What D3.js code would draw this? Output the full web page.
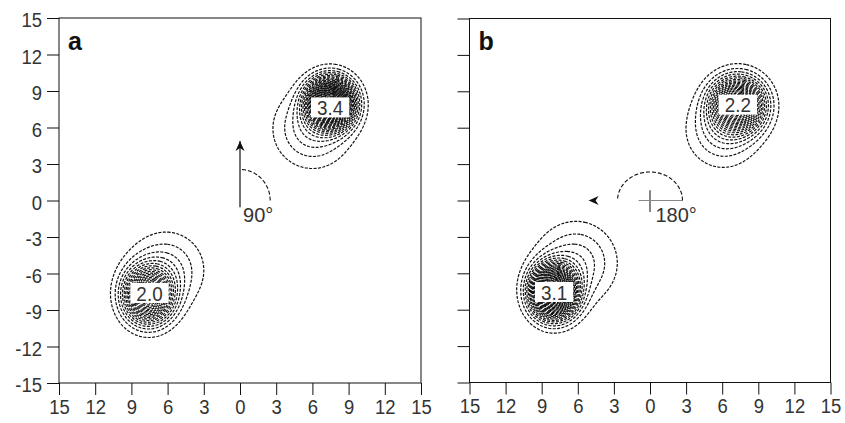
<!DOCTYPE html>
<html><head><meta charset="utf-8">
<script src="https://cdn.jsdelivr.net/npm/d3@7"></script>
<style>body{margin:0;background:#fff} svg{display:block}</style>
</head><body>
<svg id="chart" width="845" height="423"></svg>
<script>
// ---------- data ----------
const axisTicks = [-15, -12, -9, -6, -3, 0, 3, 6, 9, 12, 15];
const yTickLabels = ["-15", "-12", "-9", "-6", "-3", "0", "3", "6", "9", "12", "15"];
const xTickLabels = ["15", "12", "9", "6", "3", "0", "3", "6", "9", "12", "15"];
const panelNames = ["a", "b"];
// contour peaks: [x, y, peak, spread x, spread y]
const peaksA = [[7.5, 8.0, 3.4, 1.15, 1.2], [-7.6, -7.8, 2.0, 1.25, 1.4]];
const peaksB = [[7.3, 7.9, 2.2, 1.35, 1.35], [-8.0, -7.5, 3.1, 1.15, 1.3]];
// weak shoulders that stretch the outer contours toward the centre: [x, y, height, spread]
const shouldersA = [[6.0, 5.9, 0.38, 2.0], [-6.1, -5.7, 0.33, 2.0]];
const shouldersB = [[6.05, 5.75, 0.35, 1.9], [-6.15, -5.15, 0.38, 2.1]];
const peakLabelsA = [[7.47, 7.65, "3.4"], [-7.5, -7.6, "2.0"]];
const peakLabelsB = [[7.3, 7.9, "2.2"], [-7.97, -7.54, "3.1"]];
const contourStep = 0.1;
const arrowDirections = [90, 180];        // degrees
const arrowLengths = [4.9, 5.1];
const arcRadii = [[2.5, 2.55], [2.7, 2.35]];
const angleLabels = ["90°", "180°"];

// ---------- layout ----------
const svg = d3.select("#chart");
const panels = [
  {x0: 59, x1: 421, y0: 18, y1: 383, peaks: peaksA, shoulders: shouldersA, labels: peakLabelsA, showY: true},
  {x0: 469.5, x1: 830.5, y0: 18.5, y1: 382.5, peaks: peaksB, shoulders: shouldersB, labels: peakLabelsB, showY: false}
];
const numFont = "'Liberation Sans', Arial, sans-serif";
const sx = 0.88; // horizontal squeeze of tick numbers

panels.forEach((p, pi) => {
  const x = d3.scaleLinear().domain([-15, 15]).range([p.x0, p.x1]);
  const y = d3.scaleLinear().domain([-15, 15]).range([p.y1, p.y0]);
  const g = svg.append("g");
  const clipId = "clip" + pi;
  svg.append("clipPath").attr("id", clipId).append("rect")
    .attr("x", p.x0).attr("y", p.y0).attr("width", p.x1 - p.x0).attr("height", p.y1 - p.y0);

  // field grid
  const n = 301, step = 0.1;
  const values = new Float64Array(n * n);
  for (let j = 0; j < n; j++) {
    const yy = -15 + j * step;
    for (let i = 0; i < n; i++) {
      const xx = -15 + i * step;
      let v = 0;
      p.peaks.forEach(c => {
        const dx = (xx - c[0]) / c[3], dy = (yy - c[1]) / c[4];
        v += c[2] * Math.exp(-0.5 * (dx * dx + dy * dy));
      });
      p.shoulders.forEach(c => {
        const dx = (xx - c[0]) / c[3], dy = (yy - c[1]) / c[3];
        v += c[2] * Math.exp(-0.5 * (dx * dx + dy * dy));
      });
      values[j * n + i] = v;
    }
  }
  const maxPeak = d3.max(p.peaks, c => c[2]);
  const thresholds = d3.range(1, Math.round(maxPeak / contourStep)).map(k => k * contourStep);
  const contours = d3.contours().size([n, n]).thresholds(thresholds)(values);
  const proj = d3.geoTransform({
    point: function(gx, gy) {
      this.stream.point(x(-15 + (gx - 0.5) * step), y(-15 + (gy - 0.5) * step));
    }
  });
  const path = d3.geoPath(proj);
  g.append("g").attr("clip-path", `url(#${clipId})`)
    .selectAll("path").data(contours).join("path")
    .attr("d", path)
    .attr("fill", "none")
    .attr("stroke", "#111")
    .attr("stroke-width", 1.2)
    .attr("stroke-dasharray", "3,1.4");

  // peak labels
  p.labels.forEach(l => {
    const t = g.append("text")
      .attr("transform", `translate(${x(l[0])},${y(l[1])}) scale(0.9,1)`)
      .attr("text-anchor", "middle").attr("dy", "0.36em")
      .attr("font-family", numFont).attr("font-size", 21)
      .attr("fill", "#333").text(l[2]);
    const w = t.node().getBBox().width * 0.9;
    g.insert("rect", () => t.node())
      .attr("x", x(l[0]) - w / 2 - 6).attr("y", y(l[1]) - 10)
      .attr("width", w + 12).attr("height", 20)
      .attr("fill", "#fff");
  });

  // arrow, arc, angle label
  const dir = arrowDirections[pi], len = arrowLengths[pi];
  const rad = dir * Math.PI / 180;
  const tip = [len * Math.cos(rad), len * Math.sin(rad)];
  const ux = Math.cos(rad), uy = Math.sin(rad);
  if (pi === 0) {
    g.append("line")
      .attr("x1", x(0)).attr("y1", y(-0.55))
      .attr("x2", x(tip[0])).attr("y2", y(tip[1]))
      .attr("stroke", "#111").attr("stroke-width", 1.2);
  } else {
    g.append("line").attr("x1", x(0)).attr("x2", x(0)).attr("y1", y(0.85)).attr("y2", y(-0.95))
      .attr("stroke", "#333").attr("stroke-width", 1.2);
    g.append("line").attr("x1", x(-0.95)).attr("x2", x(arcRadii[pi][0])).attr("y1", y(0)).attr("y2", y(0))
      .attr("stroke", "#888").attr("stroke-width", 1);
  }
  const tx = x(tip[0]), ty = y(tip[1]);
  const dxp = ux, dyp = -uy;
  const hl = 10, hw = 4.5;
  const bx = tx - dxp * hl, by = ty - dyp * hl;
  const nx = bx + dxp * 3, ny = by + dyp * 3;
  g.append("path")
    .attr("d", `M${tx},${ty}L${bx - dyp * hw},${by + dxp * hw}L${nx},${ny}L${bx + dyp * hw},${by - dxp * hw}Z`)
    .attr("fill", "#111");
  const arcPts = d3.range(0, dir + 0.5, 2).map(a => {
    const r = a * Math.PI / 180;
    return [x(arcRadii[pi][0] * Math.cos(r)), y(arcRadii[pi][1] * Math.sin(r))];
  });
  g.append("path").attr("d", d3.line()(arcPts))
    .attr("fill", "none").attr("stroke", "#111").attr("stroke-width", 1.1)
    .attr("stroke-dasharray", "4,2");
  g.append("text")
    .attr("x", x(pi === 0 ? 0.25 : 0.45)).attr("y", y(-1.75))
    .attr("font-family", numFont).attr("font-size", 20)
    .attr("fill", "#333").text(angleLabels[pi]);

  // frame
  const frameColor = "#111";
  g.append("rect").attr("x", p.x0).attr("y", p.y0)
    .attr("width", p.x1 - p.x0).attr("height", p.y1 - p.y0)
    .attr("fill", "none").attr("stroke", frameColor).attr("stroke-width", 1);

  // y axis
  const yAxis = d3.axisLeft(y).tickValues(axisTicks).tickSize(12).tickSizeOuter(0)
    .tickFormat((d, i) => p.showY ? yTickLabels[i] : "");
  const ya = g.append("g").attr("transform", `translate(${p.x0},0)`).call(yAxis);
  ya.select(".domain").remove();
  ya.selectAll("line").attr("stroke", frameColor);
  ya.selectAll("text").attr("font-family", numFont).attr("font-size", 21)
    .attr("fill", "#333").attr("x", -17 / sx).attr("dy", "0.42em")
    .attr("transform", `scale(${sx},1)`);

  // x axis
  const xAxis = d3.axisBottom(x).tickValues(axisTicks).tickSize(12).tickSizeOuter(0)
    .tickFormat((d, i) => xTickLabels[i]);
  const xa = g.append("g").attr("transform", `translate(0,${p.y1})`).call(xAxis);
  xa.select(".domain").remove();
  xa.selectAll("line").attr("stroke", frameColor);
  xa.selectAll("text").attr("font-family", numFont).attr("font-size", 21)
    .attr("fill", "#333").attr("y", 16).attr("dy", "0.71em")
    .attr("transform", `scale(${sx},1)`);

  // panel letter
  g.append("text").attr("x", p.x0 + 9).attr("y", 50)
    .attr("font-family", "'Liberation Sans', Arial, sans-serif").attr("font-weight", "bold")
    .attr("font-size", 25).attr("fill", "#111").text(panelNames[pi]);
});
</script>
</body></html>
